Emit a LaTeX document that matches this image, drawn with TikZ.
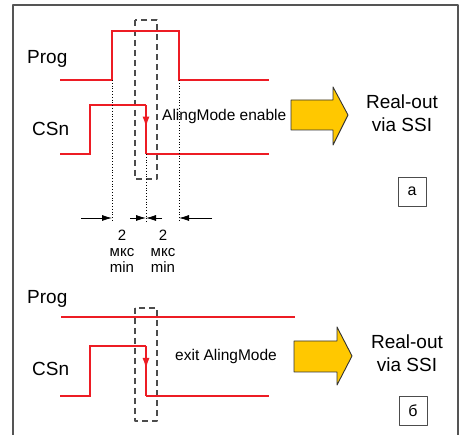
\documentclass[tikz,border=0pt]{standalone}
\usepackage{fontspec}
\setmainfont{Liberation Sans}
\usetikzlibrary{arrows.meta,decorations.markings}
\definecolor{sigred}{RGB}{237,28,36}
\definecolor{boltyellow}{RGB}{255,200,0}
\definecolor{framegray}{RGB}{85,85,85}

\begin{document}
\begin{tikzpicture}[x=1pt, y=-1pt, line join=round, line cap=butt,
	signal/.style={line width=2.8pt, sigred, line join=miter},
	edgedown/.style={signal, postaction={decorate}, decoration={markings,
		mark=at position 0.48 with {\arrow{Latex[length=12pt,width=7pt]}}}},
	dashbox/.style={draw=black!70, line width=1.1pt, dash pattern=on 6pt off 4pt},
	guide/.style={black, line width=0.8pt, dotted},
	dimarrow/.style={-{Latex[length=10pt,width=6pt]}, line width=0.8pt},
	bigarrow/.style={draw=black!80, line width=0.9pt, fill=boltyellow},
	siglabel/.style={anchor=base west, inner sep=0pt, font=\fontsize{19}{22}\selectfont},
	note/.style={anchor=base west, inner sep=0pt, font=\fontsize{15.5}{19}\selectfont},
	outlabel/.style={anchor=base, inner sep=0pt, font=\fontsize{19}{22}\selectfont},
	dimlabel/.style={anchor=base, inner sep=0pt, font=\fontsize{15}{18}\selectfont},
	tag/.style={draw=black!70, line width=0.9pt, minimum width=28pt, minimum height=29pt,
		inner sep=0pt, font=\fontsize{16}{19}\selectfont}]
	\useasboundingbox (0,0) rectangle (459,435);

	% Khung
	\draw[framegray, line width=1.6pt] (13,435) -- (13,5) -- (458,5) -- (458,435);

	% Hình a: tọa độ
	\coordinate (pa0) at (60,80);
	\coordinate (pa1) at (112,80);
	\coordinate (pa2) at (112,31);
	\coordinate (pa3) at (179,31);
	\coordinate (pa4) at (179,80);
	\coordinate (pa5) at (269,80);
	\coordinate (ca0) at (60,154);
	\coordinate (ca1) at (90,154);
	\coordinate (ca2) at (90,105);
	\coordinate (ca3) at (146,105);
	\coordinate (ca4) at (146,154);
	\coordinate (ca5) at (269,154);

	% Hình a: tín hiệu
	\node[siglabel] (proga) at (27,64) {Prog};
	\node[siglabel] (csna) at (32,136) {CSn};
	\draw[dashbox] (135,20) rectangle (157,179);
	\draw[signal] (pa0) -- (pa1) -- (pa2) -- (pa3) -- (pa4) -- (pa5);
	\draw[signal] (ca0) -- (ca1) -- (ca2) -- (ca3);
	\draw[edgedown] (ca3) -- (ca4);
	\draw[signal] (ca4) -- (ca5);

	% Đường dóng và khoảng thời gian
	\coordinate (ga) at (112,222);
	\coordinate (gb) at (146,222);
	\coordinate (gc) at (179,222);
	\draw[guide] (pa1) -- (ga);
	\draw[guide] (ca4) -- (gb);
	\draw[guide] (pa4) -- (gc);
	\coordinate (da0) at (81,218);
	\coordinate (da1) at (130,218);
	\coordinate (da2) at (162,218);
	\coordinate (da3) at (212,218);
	\draw[dimarrow] (da0) -- (112,218);
	\draw[dimarrow] (da1) -- (146,218);
	\draw[dimarrow] (da2) -- (146,218);
	\draw[dimarrow] (da3) -- (179,218);
	\foreach \x/\n in {122/l, 163/r} {
		\node[dimlabel] (two\n) at (\x,241) {2};
		\node[dimlabel] (mks\n) at (\x,257) {мкс};
		\node[dimlabel] (min\n) at (\x,273) {min};
	}

	% Hình a: chú thích
	\node[note] (modea) at (162,121) {AlingMode enable};
	\draw[bigarrow] (291,100) -- (333,100) -- (333,87) -- (348,115) -- (333,145) -- (333,130) -- (291,130) -- cycle;
	\node[outlabel] (outa1) at (402,109) {Real-out};
	\node[outlabel] (outa2) at (402,132) {via SSI};
	\node[tag] (taga) at (412,191.5) {а};

	% Hình б: tọa độ
	\coordinate (pb0) at (61,317);
	\coordinate (pb1) at (295,317);
	\coordinate (cb0) at (60,396);
	\coordinate (cb1) at (90,396);
	\coordinate (cb2) at (90,346);
	\coordinate (cb3) at (146,346);
	\coordinate (cb4) at (146,396);
	\coordinate (cb5) at (269,396);

	% Hình б: tín hiệu
	\node[siglabel] (progb) at (27,304) {Prog};
	\node[siglabel] (csnb) at (32,376) {CSn};
	\draw[dashbox] (135,308) rectangle (157,421);
	\draw[signal] (pb0) -- (pb1);
	\draw[signal] (cb0) -- (cb1) -- (cb2) -- (cb3);
	\draw[edgedown] (cb3) -- (cb4);
	\draw[signal] (cb4) -- (cb5);

	% Hình б: chú thích
	\node[note] (modeb) at (175,361) {exit AlingMode};
	\draw[bigarrow] (294,341) -- (337,341) -- (337,327) -- (352,356) -- (337,385) -- (337,372) -- (294,372) -- cycle;
	\node[outlabel] (outb1) at (407,349) {Real-out};
	\node[outlabel] (outb2) at (407,372) {via SSI};
	\node[tag] (tagb) at (413,411) {б};
\end{tikzpicture}
\end{document}
